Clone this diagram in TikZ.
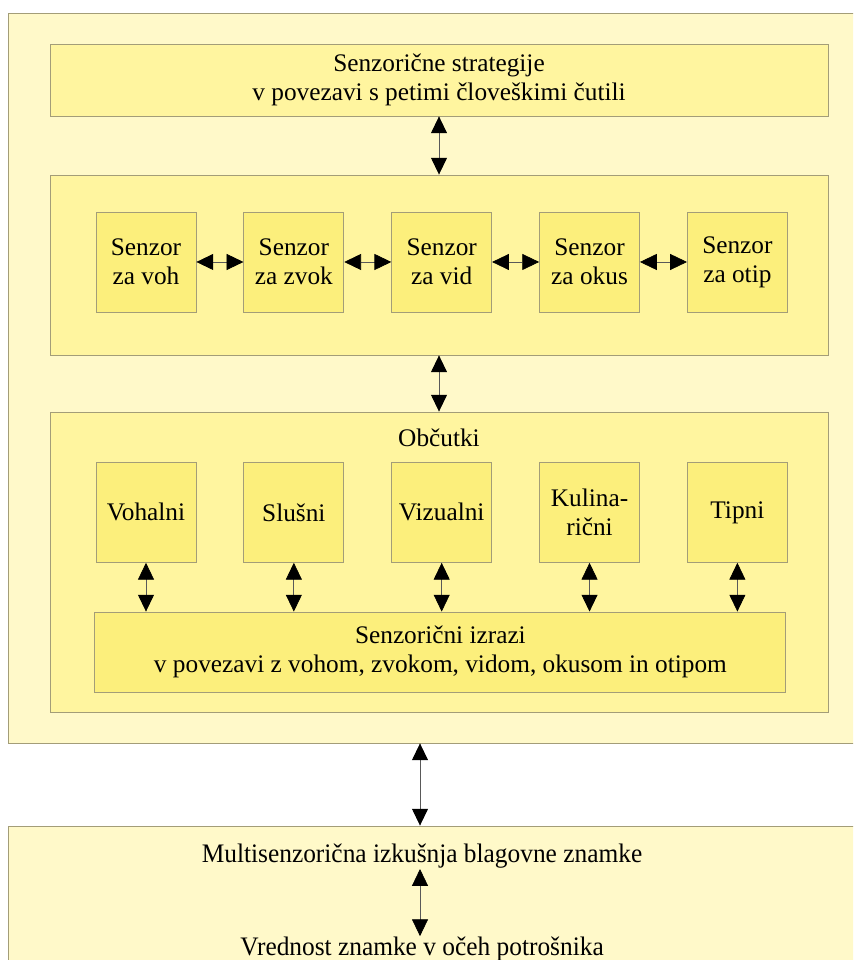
\documentclass[tikz,border=0pt]{standalone}
\usepackage{fontspec}
\setmainfont{Liberation Serif}
\newfontfamily\uzko{Liberation Serif}[FakeStretch=0.95]
\usetikzlibrary{arrows.meta, positioning}

\definecolor{bledo}{HTML}{FFF9C9}
\definecolor{srednje}{HTML}{FFF59F}
\definecolor{mocno}{HTML}{FCEF7C}
\definecolor{rob}{HTML}{A39D78}

\begin{document}
\begin{tikzpicture}[>={Triangle[length=0.42cm, width=0.4cm, color=black]},
  okvir/.style={draw=rob, line width=0.6pt, fill=srednje, minimum width=19.45cm, inner sep=0pt, align=center},
  polje/.style={draw=rob, line width=0.6pt, fill=mocno, minimum width=2.5cm, minimum height=2.5cm, inner sep=0pt, align=center},
  puscica/.style={<->, draw=gray!70!black, line width=0.5pt},
  font=\fontsize{18}{20.5}\selectfont]
  \clip (0,0) rectangle (21.325,24);

  % Zunanji okvir in spodnji okvir
  \node[draw=rob, line width=0.6pt, fill=bledo, minimum width=21.55cm, minimum height=18.25cm] (zunaj) at (10.975,14.55) {};
  \node[draw=rob, line width=0.6pt, fill=bledo, minimum width=21.55cm, minimum height=3.85cm] (dno) at (10.975,1.425) {};

  % Strategije
  \node[okvir, minimum height=1.8cm] (strategije) at (10.975,22.0) {Senzorične strategije\\v povezavi s petimi človeškimi čutili};

  % Senzorji
  \node[okvir, minimum height=4.5cm] (senzorji) at (10.975,17.375) {};
  \node[polje] (voh) at (3.65,17.45) {Senzor\\za voh};
  \node[polje, right=1.175cm of voh] (zvok) {Senzor\\za zvok};
  \node[polje, right=1.175cm of zvok] (vid) {Senzor\\za vid};
  \node[polje, right=1.175cm of vid] (okus) {Senzor\\za okus};
  \node[polje, right=1.175cm of okus] (otip) {Senzor\\za otip};

  % Občutki
  \node[okvir, minimum height=7.5cm] (obcutki) at (10.975,9.95) {};
  \node (naslov) at (10.975,13.05) {Občutki};
  \node[polje] (vohalni) at (3.65,11.19) {Vohalni};
  \node[polje, right=1.175cm of vohalni] (slusni) {Slušni};
  \node[polje, right=1.175cm of slusni] (vizualni) {Vizualni};
  \node[polje, right=1.175cm of vizualni] (kulinaricni) {Kulina-\\rični};
  \node[polje, right=1.175cm of kulinaricni] (tipni) {Tipni};
  \node[polje, minimum width=17.275cm, minimum height=2cm] (izrazi) at (11.01,7.7) {Senzorični izrazi\\v povezavi z vohom, zvokom, vidom, okusom in otipom};

  % Izkušnja
  \node[anchor=base, inner sep=0pt, font=\uzko\fontsize{19}{22}\selectfont] (izkusnja) at (10.55,2.425) {Multisenzorična izkušnja blagovne znamke};
  \node[anchor=base, inner sep=0pt, font=\uzko\fontsize{19}{22}\selectfont] (vrednost) at (10.55,0.125) {Vrednost znamke v očeh potrošnika};

  % Puščice
  \draw[puscica] (strategije) -- (senzorji);
  \draw[puscica] (senzorji) -- (obcutki);
  \foreach \a/\b in {voh/zvok, zvok/vid, vid/okus, okus/otip}
    \draw[puscica] (\a) -- (\b);
  \foreach \s in {vohalni, slusni, vizualni, kulinaricni, tipni}
    \draw[puscica] (\s) -- (\s |- izrazi.north);
  \draw[puscica] (zunaj.south -| 10.5,0) -- (dno.north -| 10.5,0);
  \draw[puscica] (izkusnja.south -| 10.5,0) -- (vrednost.north -| 10.5,0);
\end{tikzpicture}
\end{document}
